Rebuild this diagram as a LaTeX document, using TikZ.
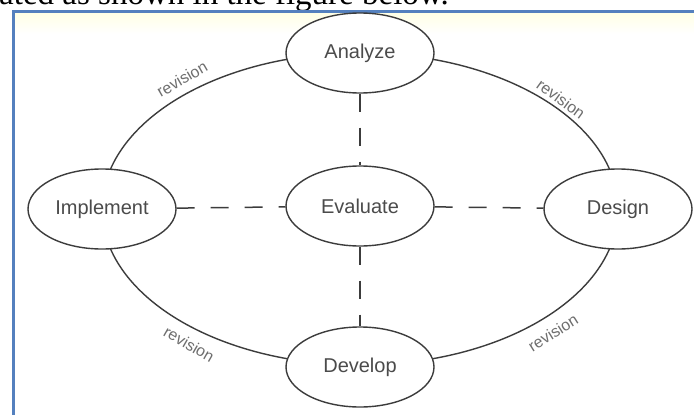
\documentclass[tikz,border=0pt]{standalone}
\usepackage{fontspec}
\setmainfont{Liberation Serif}
\setsansfont{Liberation Sans}
\usetikzlibrary{shapes.geometric}

\definecolor{lineGray}{RGB}{60,60,60}
\definecolor{textGray}{RGB}{75,75,75}
\definecolor{revGray}{RGB}{110,110,110}
\definecolor{frameBlue}{RGB}{84,128,190}

\tikzset{
  stage/.style={ellipse, draw=lineGray, line width=1.4pt, fill=white,
    minimum width=148pt, minimum height=80pt, inner sep=0pt,
    text=textGray, font=\sffamily\fontsize{20}{24}\selectfont},
  loopline/.style={draw=lineGray, line width=1.4pt},
  evallink/.style={draw=lineGray, line width=1.5pt, dash pattern=on 18pt off 16pt},
  revision/.style={text=revGray, font=\sffamily\fontsize{16}{19}\selectfont, inner sep=0pt}
}

\begin{document}
\begin{tikzpicture}[x=1pt, y=-1pt]
  \useasboundingbox (0,0) rectangle (694,415);
  \clip (0,0) rectangle (694,415);

  % 1. page and frame
  \fill[white] (0,0) rectangle (694,415);
  \shade[top color=yellow!10, bottom color=white] (14,13) rectangle (694,34);
  \node[anchor=base west, inner sep=0pt, font=\fontsize{33}{38}\selectfont] (caption) at (-1,5) {ated as shown in the figure below.};
  \draw[frameBlue, line width=3pt] (13.5,415) -- (13.5,11.5) -- (694,11.5);

  % 2. revision loop
  \draw[loopline] (360,209) ellipse [x radius=258, y radius=156];

  % 3. stages
  \node[stage] (analyze)   at (360,53)  {Analyze};
  \node[stage] (evaluate)  at (360,206) {Evaluate};
  \node[stage] (implement) at (102,209) {Implement};
  \node[stage] (design)    at (618,209) {Design};
  \node[stage] (develop)   at (360,367) {Develop};

  % 4. dashed links to evaluate
  \draw[evallink] (analyze) -- (evaluate);
  \draw[evallink] (evaluate) -- (develop);
  \draw[evallink] (implement) -- (evaluate);
  \draw[evallink] (evaluate) -- (design);

  % 5. labels
  \node[revision, rotate=30]  (revTL) at (182,79)  {revision};
  \node[revision, rotate=-36] (revTR) at (561,99)  {revision};
  \node[revision, rotate=-30] (revBL) at (189,344) {revision};
  \node[revision, rotate=32]  (revBR) at (553,333) {revision};
\end{tikzpicture}
\end{document}
